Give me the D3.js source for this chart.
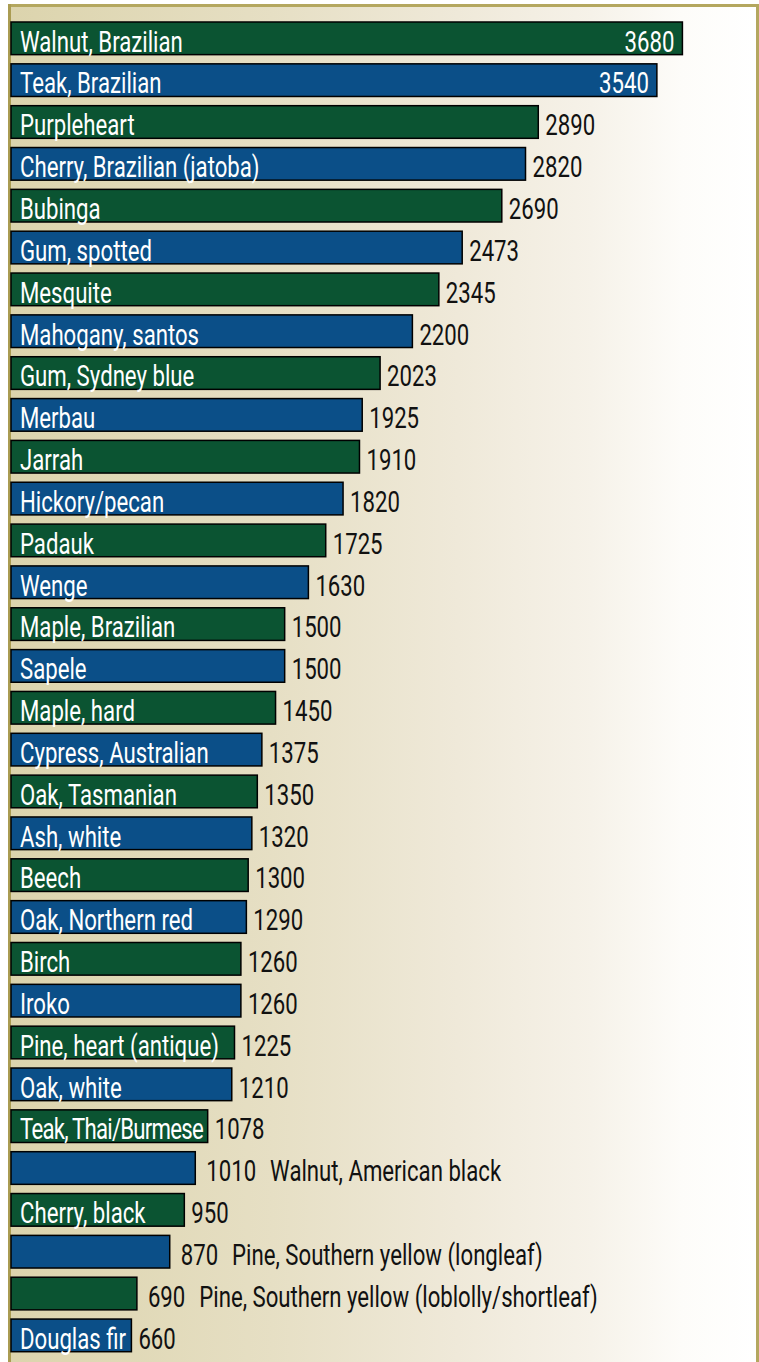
<!DOCTYPE html>
<html>
<head>
<meta charset="utf-8">
<script src="https://cdn.jsdelivr.net/npm/d3@7"></script>
<style>
  body { margin: 0; background: #fff; }
  svg { display: block; }
</style>
</head>
<body>
<svg id="chart"></svg>
<script>
// wood species, hardest first
const species = [
  "Walnut, Brazilian", "Teak, Brazilian", "Purpleheart", "Cherry, Brazilian (jatoba)",
  "Bubinga", "Gum, spotted", "Mesquite", "Mahogany, santos", "Gum, Sydney blue",
  "Merbau", "Jarrah", "Hickory/pecan", "Padauk", "Wenge", "Maple, Brazilian",
  "Sapele", "Maple, hard", "Cypress, Australian", "Oak, Tasmanian", "Ash, white",
  "Beech", "Oak, Northern red", "Birch", "Iroko", "Pine, heart (antique)",
  "Oak, white", "Teak, Thai/Burmese", "Walnut, American black", "Cherry, black",
  "Pine, Southern yellow (longleaf)", "Pine, Southern yellow (loblolly/shortleaf)",
  "Douglas fir"
];
const hardness = [
  3680, 3540, 2890, 2820, 2690, 2473, 2345, 2200, 2023, 1925, 1910, 1820, 1725,
  1630, 1500, 1500, 1450, 1375, 1350, 1320, 1300, 1290, 1260, 1260, 1225, 1210,
  1078, 1010, 950, 870, 690, 660
];
const barColors = ["#0b5432", "#0b4f88"];

const W = 759, H = 1362;
const sx = 0.765;     // squeeze text to look condensed
const fontSize = 29;

const svg = d3.select("#chart").attr("width", W).attr("height", H);

// background gradient
const defs = svg.append("defs");
const grad = defs.append("linearGradient").attr("id", "bg")
  .attr("x1", "0%").attr("x2", "100%").attr("y1", "0%").attr("y2", "0%");
[[0, "#dcd4ad"], [0.35, "#e6dfc4"], [0.6, "#efe9d9"], [0.78, "#f6f2e9"], [0.9, "#fdfcf9"], [1, "#ffffff"]]
  .forEach(s => grad.append("stop").attr("offset", s[0]).attr("stop-color", s[1]));

svg.append("rect").attr("x", 11).attr("y", 7).attr("width", 745).attr("height", H - 7)
  .attr("fill", "url(#bg)");
svg.append("rect").attr("x", 8).attr("y", 4).attr("width", 751).attr("height", 3).attr("fill", "#b4a75f");
svg.append("rect").attr("x", 8).attr("y", 4).attr("width", 3).attr("height", H).attr("fill", "#aa9c52");
svg.append("rect").attr("x", 756).attr("y", 4).attr("width", 3).attr("height", H).attr("fill", "#b4a75f");

const x = d3.scaleLinear().domain([0, 4000]).range([11, 11 + 4000 * 0.18245]);
const y = d3.scaleBand().domain(species).range([17.4, 1356.3])
  .paddingInner(0.22).paddingOuter(0.11);

const rows = species.map((name, i) => ({ name, value: hardness[i], i }));

const g = svg.append("g");
const row = g.selectAll("g.row").data(rows).join("g").attr("class", "row");

row.append("rect")
  .attr("x", x(0))
  .attr("y", d => y(d.name))
  .attr("width", d => x(d.value) - x(0))
  .attr("height", y.bandwidth())
  .attr("fill", d => barColors[d.i % 2])
  .attr("stroke", "#000")
  .attr("stroke-width", 1.5);

function addText(sel, str, px, py, fill, anchor) {
  return sel.append("text")
    .attr("transform", `translate(${px},${py}) scale(${sx},1)`)
    .attr("font-family", "Roboto, 'Liberation Sans', sans-serif")
    .attr("font-size", fontSize)
    .attr("fill", fill)
    .attr("text-anchor", anchor || "start")
    .text(str);
}

row.each(function(d) {
  const r = d3.select(this);
  const end = x(d.value);
  const barW = end - x(0);
  const base = y(d.name) + y.bandwidth() - 3;
  // measure name width
  const probe = addText(r, d.name, 0, 0, "none");
  const nameW = probe.node().getComputedTextLength() * sx;
  probe.remove();
  const nameInside = nameW < barW;

  if (end > 600) {
    addText(r, d.value, end - 8, base, "#fff", "end");
  } else if (nameInside) {
    addText(r, d.value, end + 7, base, "#111");
  } else {
    const v = addText(r, d.value, end + 11, base, "#111");
    const vw = v.node().getComputedTextLength() * sx;
    addText(r, d.name, end + 11 + vw + 14, base, "#111");
  }
  if (nameInside) {
    const t = addText(r, d.name, x(0) + 9, base, "#fff");
    // tight fit: squeeze a little so it stays inside the bar
    if (nameW + 13 > barW) {
      t.attr("textLength", (barW - 13) / sx).attr("lengthAdjust", "spacing");
    }
  }
});
</script>
</body>
</html>
